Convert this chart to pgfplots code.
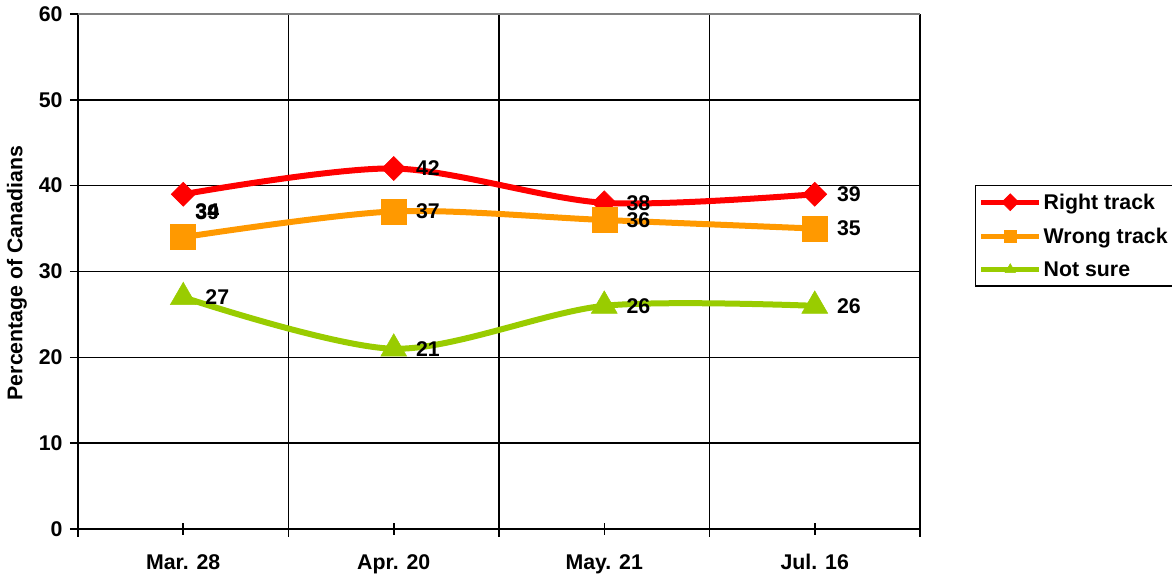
\documentclass[border=0pt]{standalone}
\usepackage{fontspec}
\setmainfont{Liberation Sans}
\usepackage{pgfplots}
\pgfplotsset{compat=1.18}
\definecolor{cRed}{HTML}{FF0000}
\definecolor{cOrange}{HTML}{FF9900}
\definecolor{cGreen}{HTML}{99CC00}
\newcommand{\F}{\bfseries\fontsize{21.3}{25}\selectfont}
\begin{document}
\begin{tikzpicture}
\useasboundingbox (-78pt,-49pt) rectangle (1094pt,529pt);
\begin{axis}[
  scale only axis, width=842pt, height=515pt,
  xmin=-0.5, xmax=3.5, ymin=0, ymax=60,
  axis x line*=bottom, axis y line*=left,
  axis line style={-, black, line width=1.5pt},
  xtick={-0.5,0.5,1.5,2.5,3.5}, xticklabels={},
  extra x ticks={0,1,2,3},
  extra x tick labels={Mar. 28, Apr. 20, May. 21, Jul. 16},
  extra x tick style={grid=none, tick align=center, major tick length=12pt},
  ytick={0,10,...,50}, extra y ticks={60},
  extra y tick style={major grid style={gray, line width=1.5pt}},
  grid=major, major grid style={black, line width=1.5pt},
  tick align=outside, major tick length=8pt,
  tick style={black, line width=1.5pt},
  ticklabel style={font=\F},
  xticklabel style={yshift=-16pt},
  yticklabel style={xshift=-4pt},
  /pgf/number format/assume math mode=true,
  ylabel={Percentage of Canadians},
  ylabel style={font=\F, at={(axis description cs:-0.0724,0.497)}, anchor=center},
  legend style={at={(axis description cs:1.0653,0.668)}, anchor=north west,
    draw=black, line width=1.5pt, font=\F, inner xsep=3pt, inner ysep=6pt, row sep=13pt},
  legend cell align=left,
  legend image code/.code={\draw[#1, line width=5pt, mark size=6pt, mark repeat=2, mark phase=2] plot coordinates {(0pt,0pt) (29pt,0pt) (58pt,0pt)};},
  point meta=explicit symbolic,
  every node near coord/.append style={anchor=west, xshift=22pt, inner sep=0pt, font=\F, text=black},
  clip=false,
]
\addplot[cRed, line width=6pt, smooth, mark=square*, mark size=8.5pt,
  mark options={rotate=45, line width=0.5pt, solid}, nodes near coords]
  coordinates {(0,39) [] (1,42) [42] (2,38) [38] (3,39) [39]};
\addlegendentry{Right track}
\addplot[cOrange, line width=6pt, smooth, mark=square*, mark size=12.5pt,
  mark options={line width=0.5pt, solid}, nodes near coords]
  coordinates {(0,34) [] (1,37) [37] (2,36) [36] (3,35) [35]};
\addlegendentry{Wrong track}
\addplot[cGreen, line width=6pt, smooth, mark=triangle*, mark size=15pt,
  mark options={line width=0.5pt, solid}, nodes near coords]
  coordinates {(0,27) [27] (1,21) [21] (2,26) [26] (3,26) [26]};
\addlegendentry{Not sure}
\addplot[draw=none, mark=none, forget plot, nodes near coords,
  every node near coord/.append style={xshift=-10pt, yshift=-18pt}]
  coordinates {(0,39) [39]};
\addplot[draw=none, mark=none, forget plot, nodes near coords,
  every node near coord/.append style={xshift=-10pt, yshift=26pt}]
  coordinates {(0,34) [34]};
\end{axis}
\end{tikzpicture}
\end{document}
